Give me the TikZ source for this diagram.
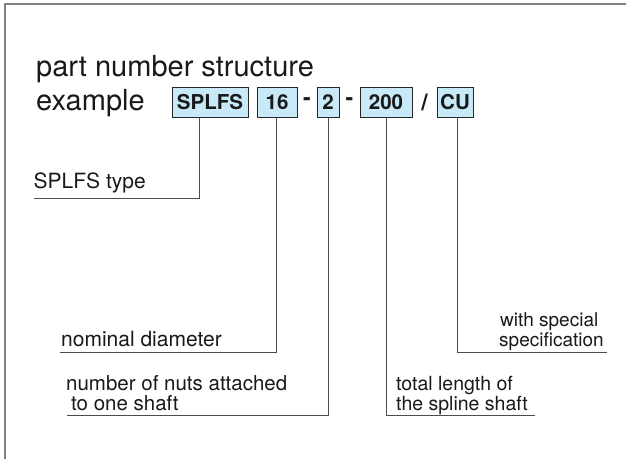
\documentclass[tikz,border=0pt]{standalone}
\usepackage{fontspec}
\setmainfont{TeX Gyre Heros}
\begin{document}
\begin{tikzpicture}[x=1pt,y=1pt,
  pnbox/.style={draw=black!85,line width=0.9pt,fill=boxblue,inner sep=0pt,minimum height=30pt,text=black!90,
    font=\fontsize{20.5}{20.5}\selectfont\bfseries},
  sep/.style={inner sep=0pt,text=black!90,font=\fontsize{23}{23}\selectfont\bfseries},
  lbl/.style={anchor=base west,inner sep=0pt,text=black!90,font=\fontsize{21}{21}\selectfont},
  lbls/.style={lbl,font=\fontsize{19.5}{19.5}\selectfont},
  ttl/.style={anchor=base west,inner sep=0pt,text=black!90,font=\fontsize{29}{29}\selectfont},
  conn/.style={draw=black!70,line width=1pt},
  frame/.style={draw=black!50,line width=2pt}]
\definecolor{boxblue}{RGB}{200,233,248}
\useasboundingbox (0,0) rectangle (626,-458);
\draw[frame] (5,-459) -- (5,-4) -- (627,-4);
% title
\node[ttl] (t1) at (36,-76) {part number structure};
\node[ttl] (t2) at (36,-110) {example};
% boxes
\node[pnbox,minimum width=76pt] (b1) at (210,-102) {SPLFS};
\node[pnbox,minimum width=40pt] (b2) at (277,-102) {16};
\node[sep] (d1) at (307,-102) {-};
\node[pnbox,minimum width=22pt] (b3) at (328,-102) {2};
\node[sep] (d2) at (349.5,-102) {-};
\node[pnbox,minimum width=52pt] (b4) at (386,-102) {200};
\node[sep] (sl) at (424.5,-102.5) {/};
\node[pnbox,minimum width=36pt] (b5) at (455,-102) {CU};
% labels
\node[lbl] (l1) at (33.5,-188) {SPLFS type};
\node[lbl] (l2) at (61,-346.5) {nominal diameter};
\node[lbl,font=\fontsize{20.5}{20.5}\selectfont] (l3a) at (66,-390) {number of nuts attached};
\node[lbl,font=\fontsize{20.5}{20.5}\selectfont] (l3b) at (71,-410) {to one shaft};
\node[lbls] (l4a) at (396,-390) {total length of};
\node[lbls] (l4b) at (396,-410) {the spline shaft};
\node[lbls,font=\fontsize{19}{19}\selectfont] (l5a) at (500,-326.5) {with special};
\node[lbls,font=\fontsize{19}{19}\selectfont] (l5b) at (499,-346.5) {specification};
% line ends
\coordinate (e1) at (33.5,-198.5);
\coordinate (e2) at (60,-352);
\coordinate (e3) at (66.5,-415.5);
\coordinate (e4) at (535,-415.5);
\coordinate (e5) at (607,-352);
% stem x positions
\coordinate (s1) at (199.5,0);
\coordinate (s2) at (276,0);
\coordinate (s3) at (328,0);
\coordinate (s4) at (386.5,0);
\coordinate (s5) at (457.5,0);
% connectors
\draw[conn] (b1.south -| s1) |- (e1);
\draw[conn] (b2.south -| s2) |- (e2);
\draw[conn] (b3.south -| s3) |- (e3);
\draw[conn] (b4.south -| s4) |- (e4);
\draw[conn] (b5.south -| s5) |- (e5);
\end{tikzpicture}
\end{document}
